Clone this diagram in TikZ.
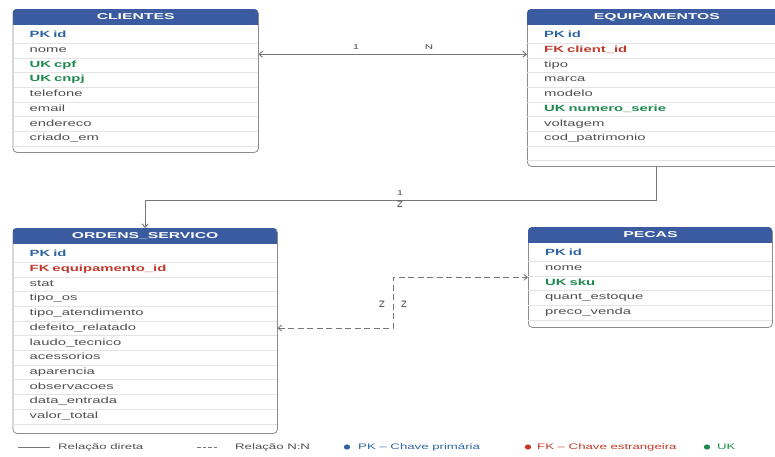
\documentclass[tikz,border=0pt]{standalone}
\usepackage{fontspec}
\setmainfont[FakeStretch=1.65]{Liberation Sans}
\newfontfamily\hdrfont[FakeStretch=1.85]{Liberation Sans}
\usetikzlibrary{arrows.meta,calc}

\definecolor{hdrblue}{HTML}{3A5BA0}
\definecolor{pkblue}{HTML}{2E64A3}
\definecolor{fkred}{HTML}{C0392B}
\definecolor{ukgreen}{HTML}{1E8A4F}
\definecolor{fieldgray}{HTML}{505050}
\definecolor{edgegray}{HTML}{8C8C8C}
\definecolor{rulegray}{HTML}{E4E4E4}
\definecolor{linkgray}{HTML}{777777}

\tikzset{
  tablebox/.style={draw=edgegray, line width=0.8pt, rounded corners=4pt,
    fill=white, inner sep=0pt, anchor=north west},
  hdrtext/.style={text=white, font=\hdrfont\bfseries\fontsize{8.5}{10}\selectfont,
    inner sep=0pt},
  fieldrow/.style={anchor=north west, inner xsep=17pt, inner ysep=0pt,
    minimum height=14.7pt, align=left, text height=6.6pt, text depth=2pt},
  row plain/.style={text=fieldgray, font=\fontsize{9}{11}\selectfont},
  row pk/.style={text=pkblue, font=\bfseries\fontsize{9}{11}\selectfont},
  row fk/.style={text=fkred, font=\bfseries\fontsize{9}{11}\selectfont},
  row uk/.style={text=ukgreen, font=\bfseries\fontsize{9}{11}\selectfont},
  rel/.style={draw=linkgray, line width=0.9pt},
  relnn/.style={rel, dash pattern=on 6pt off 3.5pt},
  tip/.style={-{Straight Barb[length=3.5pt,width=6pt]}},
  tips/.style={{Straight Barb[length=3.5pt,width=6pt]}-{Straight Barb[length=3.5pt,width=6pt]}},
  cardlbl/.style={text=fieldgray, font=\fontsize{7}{8}\selectfont, inner sep=0pt},
  legendtxt/.style={anchor=west, inner sep=0pt, font=\fontsize{8}{10}\selectfont},
}

% #1 name, #2 left, #3 top, #4 right, #5 bottom, #6 title, #7 kind/field list
\newcommand\ertable[7]{%
  \node[tablebox, minimum width={#4pt-#2pt}, minimum height={#5pt-#3pt}]
    (#1) at (#2,#3) {};
  \begin{scope}
    \clip[rounded corners=4pt] (#2,#3) rectangle (#4,#5);
    \fill[hdrblue] (#2,#3) rectangle (#4,#3+16);
  \end{scope}
  \node[hdrtext] (#1-title) at ($(#1.north)+(0,8)$) {#6};
  \foreach \kind/\field [count=\i] in {#7} {
    \node[fieldrow, row \kind, text width={#4pt-#2pt-34pt}]
      (#1-r\i) at (#2,{#3+19+(\i-1)*14.7}) {\field};
    \draw[rulegray, line width=0.6pt] (#1-r\i.south west) -- (#1-r\i.south east);
  }
}

\begin{document}
\begin{tikzpicture}[x=1pt, y=-1pt]
  \useasboundingbox (0,0) rectangle (775,456);
  \fill[white] (0,0) rectangle (775,456);

  % tables
  \ertable{cli}{12.5}{9}{258}{152}{CLIENTES}{%
    pk/PK id, plain/nome, uk/UK cpf, uk/UK cnpj, plain/telefone,
    plain/email, plain/endereco, plain/criado\_em}
  \ertable{eq}{527}{9}{786}{166}{EQUIPAMENTOS}{%
    pk/PK id, fk/FK client\_id, plain/tipo, plain/marca, plain/modelo,
    uk/UK numero\_serie, plain/voltagem, plain/cod\_patrimonio, plain/{}}
  \ertable{os}{12.5}{228}{277}{433}{ORDENS\_SERVICO}{%
    pk/PK id, fk/FK equipamento\_id, plain/stat, plain/tipo\_os,
    plain/tipo\_atendimento, plain/defeito\_relatado, plain/laudo\_tecnico,
    plain/acessorios, plain/aparencia, plain/observacoes,
    plain/data\_entrada, plain/valor\_total}
  \ertable{pc}{528}{227}{772}{327}{PECAS}{%
    pk/PK id, plain/nome, uk/UK sku, plain/quant\_estoque, plain/preco\_venda}

  % CLIENTES 1 -- N EQUIPAMENTOS
  \draw[rel, tips] ([yshift=-4pt]cli-r2.east) -- ([yshift=-4pt]eq-r2.west);
  \node[cardlbl] (lbl-cli-1) at (356,47) {1};
  \node[cardlbl] (lbl-cli-n) at (429,47) {N};

  % EQUIPAMENTOS 1 -- N ORDENS_SERVICO
  \coordinate (eqdown) at (656,200);
  \draw[rel, tip] (eq.south) -- (eq.south |- eqdown) -- (os.north |- eqdown) -- (os.north);
  \node[cardlbl] (lbl-eq-1) at (400,193) {1};
  \node[cardlbl, rotate=90] (lbl-eq-n) at (400,204) {N};

  % ORDENS_SERVICO N -- N PECAS
  \coordinate (nnx) at (393,0);
  \coordinate (pcin) at ([yshift=-1.5pt]pc-r2.south west);
  \draw[relnn, tips] (os-r6.east) -- (os-r6.east -| nnx) -- (nnx |- pcin) -- (pcin);
  \node[cardlbl, rotate=90] (lbl-nn-a) at (382,304) {N};
  \node[cardlbl, rotate=90] (lbl-nn-b) at (404,304) {N};

  % legend
  \coordinate (lg-a) at (18,447);
  \coordinate (lg-b) at (50,447);
  \draw[rel] (lg-a) -- (lg-b);
  \node[legendtxt, text=fieldgray] (lg-direct) at (58,447) {Relação direta};
  \coordinate (lg-c) at (197,447);
  \coordinate (lg-d) at (219,447);
  \draw[rel, dash pattern=on 3.5pt off 2pt] (lg-c) -- (lg-d);
  \node[legendtxt, text=fieldgray] (lg-nn) at (235,447) {Relação N:N};
  \fill[pkblue] (347,447) ellipse [x radius=3.2pt, y radius=2.6pt];
  \node[legendtxt, text=pkblue] (lg-pk) at (358,447) {PK – Chave primária};
  \fill[fkred] (528,447) ellipse [x radius=3.2pt, y radius=2.6pt];
  \node[legendtxt, text=fkred] (lg-fk) at (537,447) {FK – Chave estrangeira};
  \fill[ukgreen] (707,447) ellipse [x radius=3.2pt, y radius=2.6pt];
  \node[legendtxt, text=ukgreen] (lg-uk) at (717,447) {UK};
\end{tikzpicture}
\end{document}
